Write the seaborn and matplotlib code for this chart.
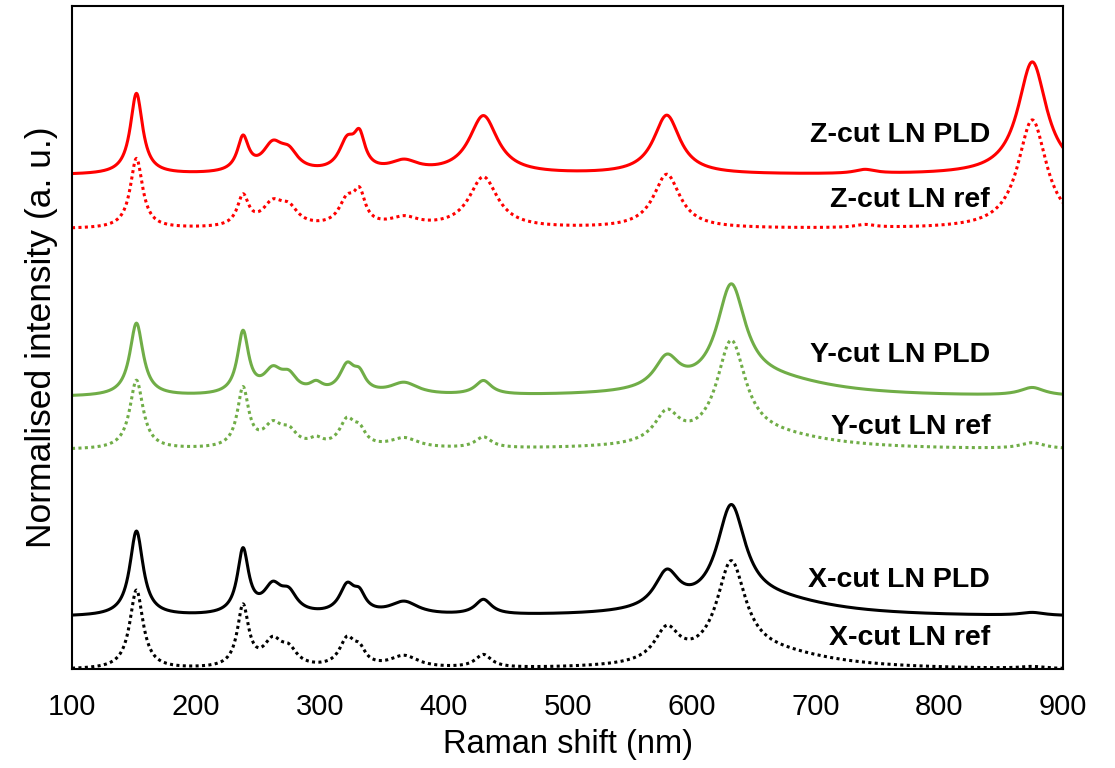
import numpy as np
import pandas as pd
import seaborn as sns
import matplotlib
matplotlib.use("Agg")
import matplotlib.pyplot as plt

# Raman bands (centre of each band on the x axis)
peak_pos = [152, 238, 262, 275, 297, 322, 332, 368, 432, 580, 632, 665, 740, 875]
# half widths of the bands (Z-cut spectra have broader 432 / 580 bands)
z_widths = [6, 5.5, 10, 9, 6, 8, 5.5, 14, 14, 13, 14, 60, 10, 14]
xy_widths = [6.5, 5.5, 9, 8, 6.5, 7.5, 6, 14, 8, 12, 14, 60, 10, 12]

# baseline level of each trace (a. u., traces are stacked)
z_pld_base = 494
z_ref_base = 440
y_pld_base = 272
y_ref_base = 219
x_pld_base = 52
x_ref_base = -1

# band heights above the baseline, same order as peak_pos
z_pld_h = [81, 34, 26, 17, 0, 29, 31, 11, 58, 59, 0, 0, 4, 113]
z_ref_h = [70, 30, 22, 16, 0, 25, 29, 9, 51, 54, 0, 0, 3, 109]
y_pld_h = [73, 62, 22, 16, 9, 27, 16, 12, 14, 31, 100, 15, 0, 8]
y_ref_h = [69, 59, 21, 14, 7, 26, 14, 10, 11, 30, 99, 12, 0, 6]
x_pld_h = [85, 64, 26, 18, 0, 27, 16, 13, 15, 36, 99, 15, 0, 3]
x_ref_h = [79, 61, 25, 15, 0, 27, 14, 12, 13, 33, 96, 15, 0, 2]

labels = ["Z-cut LN PLD", "Z-cut LN ref", "Y-cut LN PLD",
          "Y-cut LN ref", "X-cut LN PLD", "X-cut LN ref"]
label_y = [534, 469, 314, 242, 89, 31]

shift = np.arange(100, 900.5, 0.5)


def spectrum(base, heights, widths):
    # sum of lorentzian bands on a flat baseline
    y = np.full_like(shift, float(base))
    for p, h, g in zip(peak_pos, heights, widths):
        y += h / (1 + ((shift - p) / g) ** 2)
    return y


dots = (0, (1, 1.1))
traces = [
    (z_pld_base, z_pld_h, z_widths, "#FF0000", "-"),
    (z_ref_base, z_ref_h, z_widths, "#FF0000", dots),
    (y_pld_base, y_pld_h, xy_widths, "#70AD47", "-"),
    (y_ref_base, y_ref_h, xy_widths, "#70AD47", dots),
    (x_pld_base, x_pld_h, xy_widths, "#000000", "-"),
    (x_ref_base, x_ref_h, xy_widths, "#000000", dots),
]

sns.set_style("white")
plt.rcParams["font.family"] = ["Liberation Sans", "DejaVu Sans"]

fig = plt.figure(figsize=(11.15, 7.68), dpi=100)
ax = fig.add_axes([0.0646, 0.129, 0.889, 0.863])

for base, h, w, col, ls in traces:
    df = pd.DataFrame({"shift": shift, "intensity": spectrum(base, h, w)})
    sns.lineplot(data=df, x="shift", y="intensity", color=col,
                 linestyle=ls, linewidth=2.2, ax=ax)

for lab, yy in zip(labels, label_y):
    ax.text(841, yy, lab, ha="right", va="center", fontsize=20.5,
            fontweight="bold", color="black")

ax.set_xlim(100, 900)
ax.set_ylim(0, 663)
ax.set_xticks(range(100, 901, 100))
ax.set_yticks([])
ax.tick_params(axis="x", length=0, pad=17, labelsize=21, labelcolor="black")
ax.set_xlabel("Raman shift (nm)", fontsize=23.5, labelpad=6, color="black")
ax.set_ylabel("Normalised intensity (a. u.)", fontsize=25.5, labelpad=10,
              color="black")
for s in ax.spines.values():
    s.set_color("black")
    s.set_linewidth(1.5)

fig.savefig("out.png", dpi=100)
